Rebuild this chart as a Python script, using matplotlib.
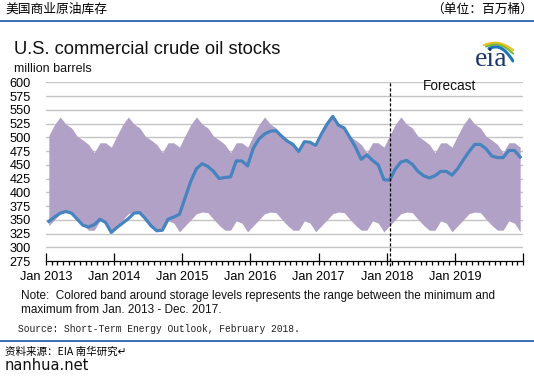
import matplotlib
matplotlib.use("Agg")
import matplotlib.pyplot as plt
import numpy as np
from matplotlib.lines import Line2D

plt.rcParams['font.family'] = ['Liberation Sans', 'Noto Sans CJK SC', 'DejaVu Sans']

# ---------------- data ----------------
year_labels = ["Jan 2013", "Jan 2014", "Jan 2015", "Jan 2016", "Jan 2017", "Jan 2018", "Jan 2019"]
y_ticks = [275, 300, 325, 350, 375, 400, 425, 450, 475, 500, 525, 550, 575, 600]

# monthly stocks Jan 2013 .. Dec 2019 (million barrels)
stocks_2013 = [347, 355, 362, 365, 362, 351, 340, 337, 341, 351, 345, 327]
stocks_2014 = [336, 344, 352, 362, 363, 352, 339, 330, 331, 351, 355, 360]
stocks_2015 = [390, 420, 443, 452, 447, 438, 425, 427, 428, 457, 457, 448]
stocks_2016 = [480, 497, 506, 511, 512, 502, 493, 487, 474, 492, 491, 485]
stocks_2017 = [506, 524, 538, 522, 517, 500, 482, 460, 468, 458, 450, 423]
stocks_2018 = [422, 442, 455, 458, 451, 438, 430, 426, 430, 438, 438, 431]
stocks_2019 = [443, 459, 474, 487, 487, 479, 466, 463, 463, 476, 476, 464]

# band: max / min by calendar month over 2013-2017
band_max = [503, 523, 537, 524, 517, 502, 495, 487, 472, 490, 490, 482]
band_min = [339, 350, 361, 364, 363, 351, 340, 331, 331, 348, 344, 328]

n_years = 7
forecast_start = 60.6  # month index (Jan 2018 point)

stocks = (stocks_2013 + stocks_2014 + stocks_2015 + stocks_2016 +
          stocks_2017 + stocks_2018 + stocks_2019)
upper = band_max * n_years
lower = band_min * n_years
xm = np.arange(len(stocks)) + 0.5

# ---------------- figure ----------------
W, H = 534, 376
fig = plt.figure(figsize=(W / 100, H / 100), dpi=100)
fig.patch.set_facecolor('white')

def fx(px):
    return px / W

def fy(py):
    return 1 - py / H

ax = fig.add_axes([fx(46), fy(261), fx(523) - fx(46), fy(82.3) - fy(261)])
ax.set_facecolor('none')

ax.fill_between(xm, lower, upper, color='#b1a1c7', linewidth=0, zorder=2)
for yv in y_ticks[1:]:
    ax.axhline(yv, color='#c4c4c4', lw=1.0, zorder=1)
ax.plot(xm, stocks, color='#4683bf', lw=2.3, zorder=3, solid_joinstyle='round')
ax.axvline(forecast_start, ymin=-0.03, ymax=1.0, color='black', lw=0.9,
           linestyle=(0, (2.5, 1.5)), zorder=4, clip_on=False)
ax.text(71, 592.5, "Forecast", ha='center', va='center', fontsize=9.8, color='#111111')

ax.set_xlim(0, 12 * n_years)
ax.set_ylim(275, 600)
ax.set_yticks(y_ticks)
ax.set_yticklabels([str(v) for v in y_ticks], fontsize=9.2)
ax.tick_params(axis='y', length=0, pad=11)

ax.xaxis.remove_overlapping_locs = False
ax.set_xticks(np.arange(0, 12 * n_years + 1, 12))
ax.set_xticklabels(year_labels + [""], fontsize=9.2)
ax.set_xticks(np.arange(0, 12 * n_years + 1, 1), minor=True)
ax.tick_params(axis='x', which='major', direction='in', length=6, width=0.9, pad=7)
ax.tick_params(axis='x', which='minor', direction='out', length=3, width=0.9)

for s in ['top', 'right', 'left']:
    ax.spines[s].set_visible(False)
ax.spines['bottom'].set_linewidth(0.9)
ax.spines['bottom'].set_zorder(5)

# ---------------- header / footer ----------------
cjk = ['Noto Sans CJK SC', 'DejaVu Sans']
fig.text(fx(5), fy(9.5), "美国商业原油库存", fontsize=9.2, family=cjk, va='center', ha='left')
fig.text(fx(533), fy(9.5), "（单位：百万桶）", fontsize=9.2, family=cjk, va='center', ha='right')
fig.add_artist(Line2D([0, 1], [fy(20.7), fy(20.7)], color='#2a62ad', lw=1.3))

fig.text(fx(13.5), fy(54.5), "U.S. commercial crude oil stocks", fontsize=13.2,
         va='baseline', ha='left', color='#111111')
fig.text(fx(13.5), fy(71.5), "million barrels", fontsize=9.0, va='baseline', ha='left',
         color='#111111')

# eia logo
lg = fig.add_axes([fx(472), fy(70), fx(42), fy(36) - fy(70)])
lg.set_xlim(0, 42)
lg.set_ylim(0, 34)
lg.axis('off')
lg.text(3, 3.5, "eia", family='Liberation Serif', fontsize=20, color='#1b3768',
        va='baseline', ha='left')
t = np.linspace(0, 1, 40)
for (x0, y0, x1, y1, col, lw) in [(12, 25, 41, 20, '#f2c01a', 1.6),
                                   (14, 23.5, 41, 16.5, '#7cba3a', 1.6),
                                   (17, 21.5, 41, 9, '#1d76bb', 2.2)]:
    xs = x0 + (x1 - x0) * t
    ys = y0 + (y1 - y0) * t ** 2.2 + 3 * np.sin(np.pi * t)
    lg.plot(xs, ys, color=col, lw=lw, solid_capstyle='round')

fig.text(fx(21), fy(296), "Note:  Colored band around storage levels represents the range between the minimum and",
         fontsize=8.5, va='center', ha='left', color='#111111')
fig.text(fx(21), fy(310), "maximum from Jan. 2013 - Dec. 2017.",
         fontsize=8.5, va='center', ha='left', color='#111111')
fig.text(fx(18), fy(329), "Source: Short-Term Energy Outlook, February 2018.",
         family='Liberation Mono', fontsize=6.95, va='center', ha='left', color='#222222')
fig.add_artist(Line2D([0, 1], [fy(340.7), fy(340.7)], color='#2a62ad', lw=1.3))

fig.text(fx(5), fy(352), "资料来源：EIA 南华研究↵", fontsize=7.6, family=cjk, va='center', ha='left')
fig.text(fx(5), fy(366), "nanhua.net", fontsize=10.5, family=['DejaVu Sans'], va='center', ha='left',
         color='#111111')

fig.savefig("out.png", dpi=100, facecolor='white')
